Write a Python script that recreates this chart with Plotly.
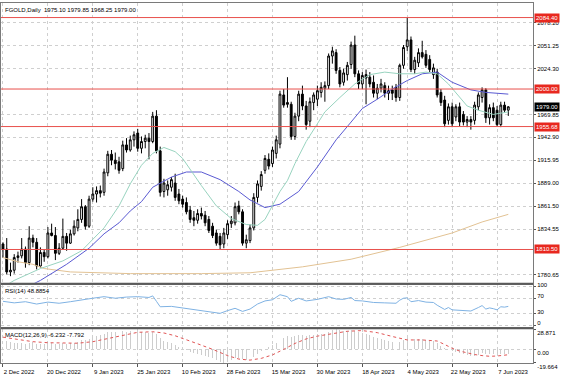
import plotly.graph_objects as go

# ---------------- data ----------------
x_tick_labels = ["2 Dec 2022", "20 Dec 2022", "9 Jan 2023", "25 Jan 2023", "10 Feb 2023",
                 "28 Feb 2023", "15 Mar 2023", "30 Mar 2023", "18 Apr 2023", "4 May 2023",
                 "22 May 2023", "7 Jun 2023"]
x_tick_bars = [0, 12, 24, 36, 48, 60, 72, 84, 96, 108, 120, 132]

open_ = [1817, 1811, 1784, 1786, 1801, 1803, 1811, 1795, 1824, 1819, 1791, 1807,
         1802, 1830, 1827, 1806, 1812, 1826, 1818, 1829, 1836, 1846, 1861, 1838,
         1870, 1876, 1880, 1878, 1901, 1923, 1916, 1914, 1906, 1934, 1928, 1940,
         1948, 1930, 1938, 1942, 1938, 1968, 1927, 1879, 1881, 1884, 1889, 1876,
         1870, 1866, 1857, 1848, 1845, 1853, 1851, 1846, 1838, 1830, 1826, 1817,
         1828, 1841, 1842, 1862, 1855, 1818, 1821, 1836, 1872, 1885, 1904, 1917,
         1912, 1924, 1935, 1993, 1984, 1982, 1944, 1968, 1994, 1980, 1962, 1984,
         1988, 1996, 2001, 2004, 2039, 2043, 2022, 2008, 2017, 2029, 2052, 2018,
         2006, 2017, 2014, 2008, 1995, 2001, 2004, 1995, 1999, 2002, 1990, 2028,
         2050, 2058, 2023, 2031, 2043, 2041, 2035, 2017, 2020, 1996, 1987, 1963,
         1979, 1967, 1979, 1970, 1961, 1964, 1963, 1979, 1990, 1999, 1966, 1978,
         1975, 1958, 1981, 1975.10]
high = [1819, 1824, 1795, 1805, 1808, 1824, 1814, 1838, 1828, 1824, 1813, 1811,
        1837, 1841, 1837, 1818, 1847, 1830, 1834, 1845, 1858, 1870, 1863, 1874,
        1884, 1885, 1886, 1906, 1927, 1928, 1925, 1920, 1939, 1942, 1945, 1950,
        1953, 1944, 1946, 1948, 1973, 1975, 1932, 1894, 1892, 1896, 1900, 1882,
        1874, 1872, 1862, 1856, 1858, 1860, 1856, 1850, 1842, 1834, 1830, 1836,
        1845, 1850, 1866, 1868, 1858, 1828, 1840, 1877, 1892, 1903, 1922, 1924,
        1932, 1945, 1998, 2000, 2014, 1985, 1972, 1998, 2004, 1986, 1990, 1996,
        2004, 2008, 2009, 2042, 2050, 2047, 2026, 2024, 2032, 2056, 2063, 2022,
        2020, 2023, 2020, 2016, 2006, 2012, 2008, 2004, 2004, 2006, 2030, 2052,
        2084.4, 2062, 2038, 2048, 2057, 2046, 2040, 2030, 2024, 2000, 1992, 1983,
        1984, 1982, 1984, 1974, 1968, 1968, 1985, 1996, 2002, 2001, 1982, 1984,
        1980, 1985, 1985, 1979.85]
low = [1801, 1781, 1779, 1782, 1795, 1800, 1789, 1792, 1813, 1787, 1789, 1796,
       1800, 1826, 1798, 1804, 1811, 1809, 1817, 1827, 1832, 1842, 1834, 1836,
       1867, 1866, 1872, 1874, 1897, 1910, 1905, 1900, 1903, 1925, 1926, 1932,
       1926, 1924, 1930, 1917, 1936, 1924, 1873, 1872, 1874, 1879, 1868, 1864,
       1860, 1852, 1842, 1838, 1841, 1846, 1838, 1830, 1824, 1815, 1811, 1812,
       1823, 1836, 1839, 1852, 1815, 1812, 1818, 1833, 1866, 1880, 1900, 1905,
       1908, 1918, 1930, 1978, 1978, 1940, 1940, 1962, 1975, 1952, 1955, 1975,
       1980, 1990, 1985, 2000, 2030, 2018, 2002, 2004, 2010, 2024, 2014, 2000,
       2000, 1982, 2002, 1990, 1988, 1996, 1990, 1987, 1987, 1985, 1986, 2024,
       2045, 2020, 2018, 2026, 2036, 2025, 2020, 2012, 1990, 1980, 1955, 1958,
       1955, 1962, 1956, 1957, 1955, 1952, 1958, 1975, 1984, 1960, 1958, 1962,
       1956, 1955, 1972, 1968.25]
close = [1811, 1784, 1786, 1801, 1803, 1811, 1795, 1824, 1819, 1791, 1807, 1802,
         1830, 1827, 1806, 1812, 1826, 1818, 1829, 1838, 1846, 1861, 1838, 1870,
         1876, 1880, 1877, 1902, 1923, 1916, 1912, 1904, 1934, 1928, 1940, 1946,
         1930, 1938, 1942, 1938, 1968, 1927, 1878, 1889, 1887, 1893, 1872, 1868,
         1864, 1855, 1846, 1845, 1853, 1850, 1842, 1833, 1827, 1818, 1816, 1830,
         1841, 1844, 1861, 1855, 1818, 1822, 1836, 1872, 1888, 1899, 1918, 1909,
         1928, 1940, 1994, 1981, 1982, 1944, 1968, 1994, 1980, 1958, 1985, 1993,
         1998, 2002, 2004, 2039, 2045, 2022, 2006, 2019, 2028, 2052, 2018, 2006,
         2016, 2013, 2006, 1995, 2001, 2006, 1995, 1998, 1995, 1990, 2028, 2049,
         2058, 2023, 2034, 2043, 2038, 2028, 2023, 2025, 1993, 1984, 1959, 1979,
         1959, 1979, 1961, 1961, 1964, 1961, 1981, 1993, 1999, 1966, 1978, 1966,
         1958, 1981, 1975, 1979.00]

# moving averages (bar index, price)
ma_fast_bar = [0, 3, 10, 16, 21, 24, 27, 31, 34, 37, 40, 43, 46, 48, 50, 53, 57, 61, 65, 68,
               70, 74, 76, 78, 81, 84, 86, 90, 94, 98, 102, 106, 110, 113, 116, 119, 122,
               124, 127, 131, 135]
ma_fast_val = [1766, 1774, 1788, 1797, 1809, 1822, 1836, 1862, 1888, 1910, 1924, 1931, 1926,
               1918, 1905, 1886, 1862, 1847, 1840, 1839, 1846, 1879, 1892, 1912, 1938, 1959,
               1973, 1990, 2006, 2017, 2020, 2018, 2018, 2020, 2018, 2006, 1990, 1980, 1975,
               1970, 1973]
ma_mid_bar = [0, 5, 10, 17, 23, 27, 31, 34, 37, 40, 45, 49, 53, 58, 63, 66, 70, 74, 79, 84,
              89, 93, 96, 100, 104, 108, 112, 116, 120, 125, 129, 135]
ma_mid_val = [1752, 1763, 1774, 1793, 1812, 1829, 1842, 1856, 1867, 1884, 1896, 1902, 1902,
              1893, 1879, 1869, 1860, 1864, 1879, 1908, 1940, 1961, 1977, 1988, 2000, 2010,
              2018, 2020, 2008, 1999, 1996, 1994]
ma_slow_bar = [0, 4, 8, 11, 18, 26, 34, 53, 66, 80, 93, 106, 120, 128, 135]
ma_slow_val = [1801, 1796, 1793, 1788, 1784, 1783, 1782, 1782, 1783, 1790, 1799, 1813, 1830,
               1843, 1852]

# horizontal levels
level_prices = [2084.40, 2000.00, 1955.68, 1810.50]
last_price = 1979.00

price_tick_vals = [2078.20, 2051.25, 2024.30, 1969.85, 1942.90, 1915.95, 1889.00, 1861.50,
                   1834.55, 1780.65]
price_tick_text = ["2078.20", "2051.25", "2024.30", "1969.85", "1942.90", "1915.95", "1889.00",
                   "1861.50", "1834.55", "1780.65"]

# RSI(14)
rsi_bar = [0, 3, 6, 9, 12, 15, 18, 21, 24, 27, 30, 33, 36, 39, 40, 41, 42, 45, 48, 51, 54, 57,
           58, 60, 62, 64, 66, 68, 70, 72, 74, 76, 77, 79, 81, 84, 87, 89, 91, 93, 94, 96, 99,
           102, 105, 106, 107, 108, 109, 111, 113, 115, 116, 118, 119, 120, 122, 124, 125, 127,
           128, 129, 130, 131, 132, 133, 134, 135]
rsi_val = [62, 58, 61, 55, 60, 57, 61, 66, 70, 74, 70, 73, 74, 72, 76, 62, 48, 49, 45, 41, 38,
           33, 31, 38, 44, 36, 42, 55, 63, 66, 79, 74, 62, 70, 63, 67, 74, 68, 67, 72, 64, 63,
           59, 58, 57, 65, 70, 71, 61, 64, 60, 59, 52, 41, 46, 40, 39, 38, 37, 46, 51, 42, 45,
           43, 40, 48, 47, 48.8854]

# MACD(12,26,9) main values (histogram) per bar, and signal line
macd_main = [14, 12, 10, 9, 8.5, 9, 8, 9.5, 10, 8, 8, 7.5,
             9, 9.5, 8, 7.5, 8.5, 8, 8.5, 9.5, 11, 13, 13, 15.5,
             17.5, 19, 20, 22.5, 25, 25.5, 25.5, 25, 26, 25.5, 26, 26.5,
             25.5, 25, 25, 23.5, 25, 22, 16, 12.5, 10, 8.5, 6, 3.5,
             1.5, -1, -3.5, -5.5, -6.5, -7.5, -9, -11, -13, -15.5, -18, -19.664,
             -18, -16, -13, -12.5, -14.5, -15.5, -14.5, -10.5, -6.5, -3, 1, 3,
             6, 9, 14.5, 17, 19, 18, 19, 21, 20.5, 19.5, 20.5, 21,
             21.5, 22, 22.5, 25.5, 28, 28.871, 28, 27, 27, 28.5, 27, 25,
             23.5, 22, 20.5, 18, 16.5, 15.5, 13.5, 12, 10.5, 9, 11, 14,
             16.5, 15.5, 15, 15.5, 15, 14, 12.5, 11.5, 8.5, 5.5, 1.5, 0,
             -2.5, -3.5, -5.5, -7, -8.5, -10, -9.5, -7.5, -5, -6, -6.5, -7, -8.5, -7, -6.5, -6.232]
signal_bar = [0, 4, 8, 12, 16, 20, 24, 28, 32, 36, 40, 43, 46, 49, 52, 56, 60, 63, 66, 69, 72,
              75, 78, 81, 84, 88, 92, 96, 100, 104, 108, 112, 116, 118, 120, 122, 124, 126, 128,
              130, 132, 134, 135]
signal_val = [17.5, 14, 11, 9.5, 8.7, 8.8, 11, 15.5, 20.5, 24.5, 25.3, 23.5, 19.5, 14, 8, 0,
              -9, -14, -15.5, -13, -8, 0, 8.5, 15, 19, 22.5, 26, 27, 24, 18.5, 13.5, 13.5, 12,
              7, 1.5, -2.5, -5.5, -7.5, -9, -10, -9.6, -8.4, -7.792]
macd_ticks = [28.871, 0.0, -19.664]
macd_tick_text = ["28.871", "0.00", "-19.664"]

# ---------------- figure ----------------
FONT = "Liberation Sans"
GRID = "#cfcfcf"
FRAME = "#7a7a7a"
bars = list(range(len(open_)))
x_range = [-0.53, 141.6]

D_MAIN = [0.2231, 1.0]
D_RSI = [0.0992, 0.2176]
D_MACD = [0.0, 0.0937]

fig = go.Figure()
fig.add_trace(go.Candlestick(
    x=bars, open=open_, high=high, low=low, close=close,
    increasing=dict(line=dict(color="black", width=1), fillcolor="white"),
    decreasing=dict(line=dict(color="black", width=1), fillcolor="black"),
    whiskerwidth=0, showlegend=False, hoverinfo="skip", xaxis="x", yaxis="y"))
fig.add_trace(go.Scatter(x=ma_slow_bar, y=ma_slow_val, mode="lines",
                         line=dict(color="#e2c293", width=1), xaxis="x", yaxis="y",
                         showlegend=False, hoverinfo="skip"))
fig.add_trace(go.Scatter(x=ma_mid_bar, y=ma_mid_val, mode="lines",
                         line=dict(color="#5a5ad2", width=1), xaxis="x", yaxis="y",
                         showlegend=False, hoverinfo="skip"))
fig.add_trace(go.Scatter(x=ma_fast_bar, y=ma_fast_val, mode="lines",
                         line=dict(color="#98d3bf", width=1), xaxis="x", yaxis="y",
                         showlegend=False, hoverinfo="skip"))

fig.add_trace(go.Scatter(x=rsi_bar, y=rsi_val, mode="lines",
                         line=dict(color="#7fb2e3", width=1), xaxis="x2", yaxis="y2",
                         showlegend=False, hoverinfo="skip"))

fig.add_trace(go.Bar(x=bars, y=macd_main, width=0.25, marker=dict(color="#cdcdcd", line=dict(width=0)),
                     xaxis="x3", yaxis="y3", showlegend=False, hoverinfo="skip"))
fig.add_trace(go.Scatter(x=signal_bar, y=signal_val, mode="lines",
                         line=dict(color="#e05555", width=1, dash="dot"), xaxis="x3", yaxis="y3",
                         showlegend=False, hoverinfo="skip"))

shapes = []
for lv in level_prices:
    shapes.append(dict(type="line", xref="x domain", yref="y", x0=0, x1=1, y0=lv, y1=lv,
                       line=dict(color="#e8504c", width=1), layer="above"))
# panel separators
for y0, y1 in [(D_RSI[1], D_MAIN[0]), (D_MACD[1], D_RSI[0])]:
    shapes.append(dict(type="rect", xref="paper", yref="paper", x0=0, x1=1, y0=y0, y1=y1,
                       fillcolor="#5a5a5a", line=dict(width=0), layer="above"))

annotations = []
for lv in level_prices:
    annotations.append(dict(xref="paper", yref="y", x=1, y=lv, xanchor="left", yanchor="middle",
                            text=f"{lv:.2f}", showarrow=False, bgcolor="#e8281f", borderpad=1,
                            font=dict(family=FONT, size=6, color="white"), xshift=1))
annotations.append(dict(xref="paper", yref="y", x=1, y=last_price, xanchor="left", yanchor="middle",
                        text=f"{last_price:.2f}", showarrow=False, bgcolor="black", borderpad=1,
                        font=dict(family=FONT, size=6, color="white"), xshift=1))
annotations.append(dict(xref="paper", yref="paper", x=0, y=1, xanchor="left", yanchor="top",
                        xshift=2, yshift=-2, showarrow=False,
                        text=f"FGOLD,Daily  {open_[-1]:.2f} {high[-1]:.2f} {low[-1]:.2f} {close[-1]:.2f}",
                        font=dict(family=FONT, size=6, color="black")))
annotations.append(dict(xref="paper", yref="paper", x=0, y=D_RSI[1], xanchor="left", yanchor="top",
                        xshift=2, yshift=-1, showarrow=False,
                        text=f"RSI(14) {rsi_val[-1]:.4f}",
                        font=dict(family=FONT, size=6, color="black")))
annotations.append(dict(xref="paper", yref="paper", x=0, y=D_MACD[1], xanchor="left", yanchor="top",
                        xshift=2, yshift=-1, showarrow=False,
                        text=f"MACD(12,26,9) {macd_main[-1]:.3f} {signal_val[-1]:.3f}",
                        font=dict(family=FONT, size=6, color="black")))

xcommon = dict(range=x_range, tickvals=x_tick_bars, showgrid=True, gridcolor=GRID, griddash="dot",
               gridwidth=1, zeroline=False, showline=True, mirror=True, linecolor=FRAME,
               linewidth=1, fixedrange=True)
ycommon = dict(side="right", showgrid=True, gridcolor=GRID, griddash="dot", gridwidth=1,
               zeroline=False, showline=True, mirror=True, linecolor=FRAME, linewidth=1,
               ticks="outside", ticklen=2, tickcolor="#555555",
               tickfont=dict(family=FONT, size=6, color="black"), fixedrange=True)

fig.update_layout(
    width=564, height=376,
    margin=dict(l=1, r=31, t=0, b=13),
    paper_bgcolor="white", plot_bgcolor="white",
    font=dict(family=FONT, size=6, color="black"),
    showlegend=False, bargap=0,
    xaxis=dict(**xcommon, domain=[0, 1], anchor="y", showticklabels=False,
               rangeslider=dict(visible=False)),
    xaxis2=dict(**xcommon, domain=[0, 1], anchor="y2", showticklabels=False),
    xaxis3=dict(**xcommon, domain=[0, 1], anchor="y3", showticklabels=True,
                ticktext=x_tick_labels, ticks="outside", ticklen=3, tickcolor="#555555",
                ticklabelshift=16, tickfont=dict(family=FONT, size=6, color="black")),
    yaxis=dict(**ycommon, domain=D_MAIN, anchor="x", range=[1771.3, 2101.6],
               tickvals=price_tick_vals, ticktext=price_tick_text),
    yaxis2=dict(**ycommon, domain=D_RSI, anchor="x2", range=[-5, 105],
                tickvals=[100, 70, 30, 0], ticktext=["100", "70", "30", "0"], ticklabelshift=-2),
    yaxis3=dict(**ycommon, domain=D_MACD, anchor="x3", range=[-19.664, 28.871],
                tickvals=macd_ticks, ticktext=macd_tick_text, ticklabelshift=4),
    shapes=shapes, annotations=annotations,
)

fig.write_html("out.html", config={"displayModeBar": False, "staticPlot": True},
               post_script="document.body.style.margin='0';document.body.style.overflow='hidden';")
